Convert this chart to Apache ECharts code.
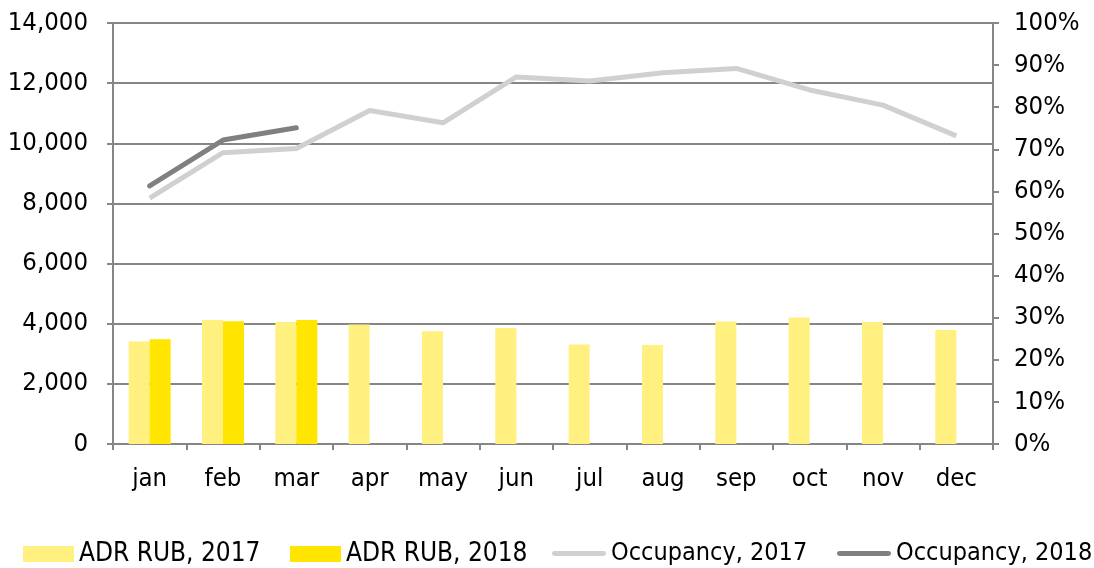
<!DOCTYPE html>
<html>
<head>
<meta charset="utf-8">
<script src="https://cdn.jsdelivr.net/npm/echarts@6/dist/echarts.min.js"></script>
<style>
html,body{margin:0;padding:0;background:#fff;}
#chart{width:1094px;height:568px;}
</style>
</head>
<body>
<div id="chart"></div>
<script>
const months = ['jan','feb','mar','apr','may','jun','jul','aug','sep','oct','nov','dec'];
const adr2017 = [3410, 4120, 4060, 3970, 3750, 3860, 3310, 3290, 4070, 4210, 4060, 3790];
const adr2018 = [3480, 4080, 4120, null, null, null, null, null, null, null, null, null];
const occ2017 = [58.4, 69.2, 70.2, 79.2, 76.3, 87.2, 86.2, 88.2, 89.2, 84.1, 80.5, 73.2];
const occ2018 = [61.3, 72.2, 75.1];
const seriesNames = ['ADR RUB, 2017', 'ADR RUB, 2018', 'Occupancy, 2017', 'Occupancy, 2018'];

const FONT = "'DejaVu Sans Condensed', 'DejaVu Sans', sans-serif";
const AX = '#868686';
const FS = 25.5;
// legend line icon: thick capsule line centred in the icon box (slivers keep box size)
const LINE_ICON = 'path://M2.5,5.5 L51.5,5.5 A2.5,2.5 0 0 1 51.5,10.5 L2.5,10.5 A2.5,2.5 0 0 1 2.5,5.5 Z M0,0 L0.01,0 L0.01,16 L0,16 Z M54,0 L54.01,0 L54.01,16 L54,16 Z';
const legendLefts = [23, 290, 552, 837];
const legends = seriesNames.map((n, i) => ({
  top: 541, left: legendLefts[i], padding: 0,
  itemWidth: i < 2 ? 51 : 54, itemHeight: 16,
  textStyle: {fontFamily: FONT, fontSize: i < 2 ? 26 : 25, color: '#000'},
  data: [i < 2 ? {name: n, icon: 'rect'} : {name: n, icon: LINE_ICON}]
}));
const chart = echarts.init(document.getElementById('chart'));
chart.setOption({
  animation: false,
  textStyle: {fontFamily: FONT},
  grid: {left: 113, right: 101, top: 23, bottom: 124, containLabel: false},
  legend: legends,
  xAxis: {
    type: 'category', data: months,
    axisLine: {lineStyle: {color: AX, width: 2}},
    axisTick: {show: true, length: 6, lineStyle: {color: AX, width: 2}},
    axisLabel: {fontFamily: FONT, fontSize: FS, color: '#000', margin: 22}
  },
  yAxis: [{
    type: 'value', min: 0, max: 14000, interval: 2000,
    axisLine: {show: true, lineStyle: {color: AX, width: 2}},
    axisTick: {show: true, length: 6, lineStyle: {color: AX, width: 2}},
    splitLine: {lineStyle: {color: AX, width: 2}},
    axisLabel: {fontFamily: FONT, fontSize: FS, color: '#000', margin: 25,
      formatter: v => v.toLocaleString('en-US')}
  }, {
    type: 'value', min: 0, max: 100, interval: 10, position: 'right',
    axisLine: {show: true, lineStyle: {color: AX, width: 2}},
    axisTick: {show: true, length: 6, lineStyle: {color: AX, width: 2}},
    splitLine: {show: false},
    axisLabel: {fontFamily: FONT, fontSize: FS, color: '#000', margin: 21,
      formatter: v => v + '%'}
  }],
  series: [
    {name: seriesNames[0], type: 'bar', data: adr2017, barWidth: 21, barGap: '0%',
      itemStyle: {color: '#FFF07F'}},
    {name: seriesNames[1], type: 'bar', data: adr2018, barWidth: 21, barGap: '0%',
      itemStyle: {color: '#FFE500'}},
    {name: seriesNames[2], type: 'line', yAxisIndex: 1, data: occ2017, symbol: 'none',
      lineStyle: {color: '#D0D0D0', width: 5}, itemStyle: {color: '#D0D0D0'}},
    {name: seriesNames[3], type: 'line', yAxisIndex: 1, data: occ2018, symbol: 'none',
      lineStyle: {color: '#808080', width: 5, cap: 'round'}, itemStyle: {color: '#808080'}}
  ]
});
</script>
</body>
</html>
